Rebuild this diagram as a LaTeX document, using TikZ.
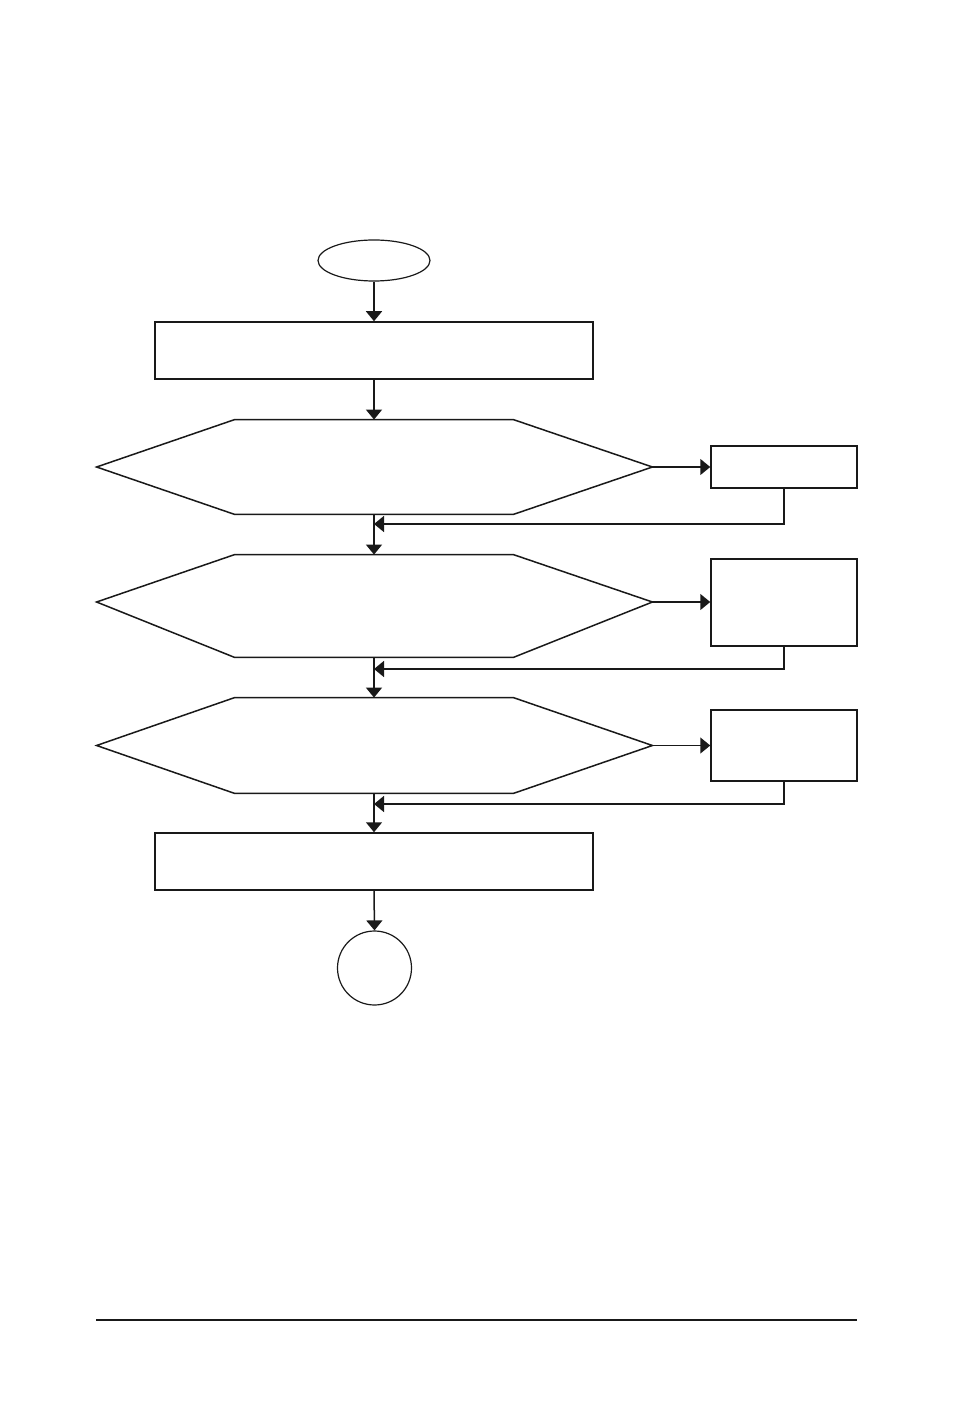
\documentclass[tikz,border=0pt]{standalone}
\usetikzlibrary{arrows.meta,calc,shapes.geometric}
\begin{document}
\begin{tikzpicture}[x=0.5pt,y=-0.5pt]
\tikzset{
 ln/.style={line width=0.75pt, draw=black!90},
 arr/.style={ln, -{Triangle[width=8pt,length=5pt]}},
 boxn/.style={ln, draw, rectangle, inner sep=0pt},
 hold/.style={rectangle, inner sep=0pt},
}
\useasboundingbox (0,0) rectangle (954,1417);
% nodes
\node[ln, draw, ellipse, line width=0.6pt, inner sep=0pt, minimum width=56pt, minimum height=20.5pt] (start) at (374,260.5) {};
\node[boxn, minimum width=219pt, minimum height=28.5pt] (b1) at (374,350.5) {};
\node[hold, minimum width=277.5pt, minimum height=47pt] (h1) at (374.5,467) {};
\node[hold, minimum width=277.5pt, minimum height=51pt] (h2) at (374.5,606) {};
\node[hold, minimum width=277.5pt, minimum height=47.5pt] (h3) at (374.5,745.5) {};
\node[boxn, minimum width=73pt, minimum height=21pt] (s1) at (784,467) {};
\node[boxn, minimum width=73pt, minimum height=43.5pt] (s2) at (784,602.5) {};
\node[boxn, minimum width=73pt, minimum height=35.5pt] (s3) at (784,745.5) {};
\node[boxn, minimum width=219pt, minimum height=28.5pt] (b2) at (374,861.5) {};
\node[ln, draw, circle, line width=0.6pt, inner sep=0pt, minimum size=37pt] (end) at (374.5,968) {};
% hexagon tips
\coordinate (h1w) at (h1.west);
\coordinate (h1e) at (h1.east);
\coordinate (h2w) at ($(h2.west)+(0,-4)$);
\coordinate (h2e) at ($(h2.east)+(0,-4)$);
\coordinate (h3w) at (h3.west);
\coordinate (h3e) at (h3.east);
% hexagons
\foreach \h in {h1,h2,h3}{
 \draw[ln] (\h w) -- ($(\h.north west)+(138,0)$) -- ($(\h.north east)+(-139,0)$) -- (\h e)
   -- ($(\h.south east)+(-139,0)$) -- ($(\h.south west)+(138,0)$) -- cycle;
}
% return points
\coordinate (m1) at (374,524);
\coordinate (m2) at (374,669);
\coordinate (m3) at (374,804);
% connectors
\draw[arr] (start.south) -- (b1.north);
\draw[arr] (b1.south) -- (b1.south |- h1.north);
\draw[arr] (b1.south |- h1.south) -- (b1.south |- h2.north);
\draw[arr] (b1.south |- h2.south) -- (b1.south |- h3.north);
\draw[arr] (b1.south |- h3.south) -- (b2.north);
\draw[arr] (b2.south) -- (end.north);
\draw[arr] (h1e) -- (s1.west);
\draw[arr] (h2e) -- (s2.west |- h2e);
\draw[arr] (h3e) -- (s3.west);
\draw[arr] (s1.south) |- (m1);
\draw[arr] (s2.south) |- (m2);
\draw[arr] (s3.south) |- (m3);
% footer rule
\draw[line width=1.2pt, draw=black!90] (96,1320) -- (857,1320);
\end{tikzpicture}
\end{document}
